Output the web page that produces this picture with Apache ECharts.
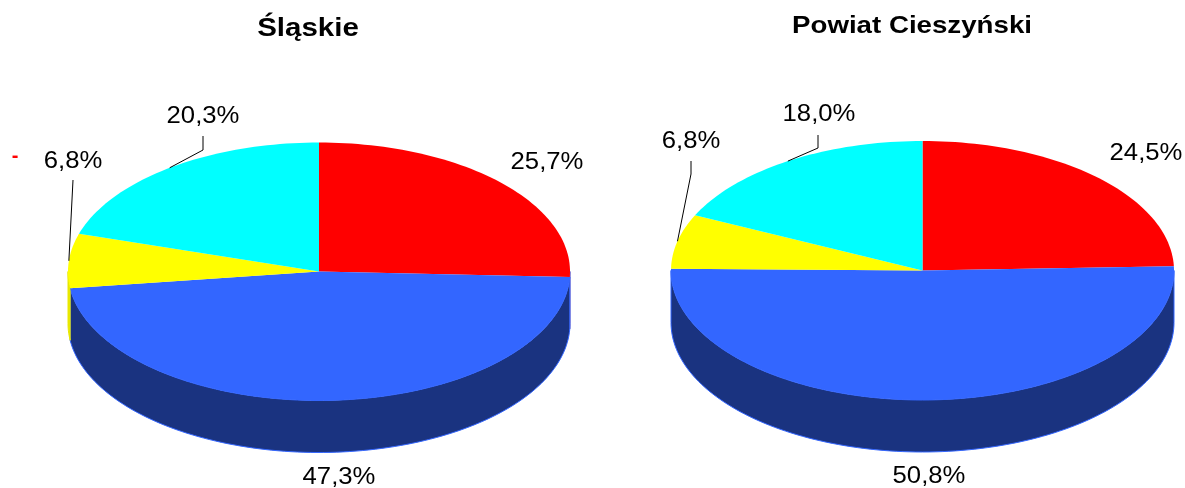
<!DOCTYPE html>
<html>
<head>
<meta charset="utf-8">
<style>html,body{margin:0;padding:0;background:#fff}#c{width:1185px;height:488px}</style>
<script src="https://cdn.jsdelivr.net/npm/echarts@6/dist/echarts.min.js"></script>
</head>
<body>
<div id="c"></div>
<script>
// Data
const categories = ['A', 'B', 'C', 'D'];
const titles = ['Śląskie', 'Powiat Cieszyński'];
const slaskieValues = [25.7, 47.3, 6.8, 20.3];
const cieszynskiValues = [24.5, 50.8, 6.8, 18.0];
const slaskieLabels = ['25,7%', '47,3%', '6,8%', '20,3%'];
const cieszynskiLabels = ['24,5%', '50,8%', '6,8%', '18,0%'];

// Styles and layout
const topColors = ['#ff0000', '#3366ff', '#ffff00', '#00ffff'];
const wallColors = ['#6a5fc8', '#1a3380', '#e8e800', '#008080'];
const wallStrokes = ['#6a5fc8', '#3366ff', '#e8e800', '#00ffff'];
const FONT = 'Liberation Sans, Arial, sans-serif';
const pies = [
  { cx: 319, cy: 271.5, rx: 251, ry: 129, depth: 52,
    labelPos: [[547, 162], [339, 477], [73, 161], [203, 116]],
    elbows: [null, null, [[73, 180]], [[203, 136], [203, 150]]],
    titlePos: [308, 29], titleSize: 25, titleScale: 1.18 },
  { cx: 922.5, cy: 270.5, rx: 251.5, ry: 129.5, depth: 52,
    labelPos: [[1146, 153], [929, 476], [691, 141], [819, 114]],
    elbows: [null, null, [[691, 161], [691, 174]], [[818, 135], [818, 148]]],
    titlePos: [912, 26], titleSize: 24, titleScale: 1.153 }
];

function pt(p, deg, dz) {
  const a = deg * Math.PI / 180;
  return [p.cx + p.rx * Math.sin(a), p.cy - p.ry * Math.cos(a) + (dz || 0)];
}
function arcPts(p, from, to, dz) {
  const out = [];
  const n = Math.max(2, Math.ceil(Math.abs(to - from) / 1.5));
  for (let i = 0; i <= n; i++) out.push(pt(p, from + (to - from) * i / n, dz));
  return out;
}

function makeRender(p, values, labels) {
  const sum = values.reduce((a, b) => a + b, 0);
  return function (params, api) {
    const i = params.dataIndex;
    let before = 0;
    for (let k = 0; k < i; k++) before += values[k];
    const start = before / sum * 360;
    const end = (before + api.value(1)) / sum * 360;
    const children = [];
    // Visible outer wall: the front half of the ellipse (90..270 degrees)
    const wa = Math.max(start, 90), wb = Math.min(end, 270);
    if (wb > wa) {
      children.push({
        type: 'polygon',
        shape: { points: arcPts(p, wa, wb, 0).concat(arcPts(p, wb, wa, p.depth)) },
        style: { fill: wallColors[i], stroke: wallStrokes[i], lineWidth: 1 }, z2: 1
      });
    }
    // Top face
    children.push({
      type: 'polygon',
      shape: { points: [[p.cx, p.cy]].concat(arcPts(p, start, end, 0)) },
      style: { fill: topColors[i], stroke: null }, z2: 2
    });
    // Leader line
    const mid = (start + end) / 2;
    const el = p.elbows[i];
    if (el) {
      children.push({
        type: 'polyline',
        shape: { points: el.concat([pt(p, mid, 0)]) },
        style: { stroke: '#000', lineWidth: 1, fill: null }, z2: 3
      });
    }
    // Value label
    const lp = p.labelPos[i];
    children.push({
      type: 'text', x: lp[0], y: lp[1], scaleX: 1.07, z2: 4,
      style: { text: labels[i], fill: '#000', font: '24px ' + FONT, align: 'center', verticalAlign: 'middle' }
    });
    return { type: 'group', children: children };
  };
}

const seriesData = values => values.map((v, i) => [categories[i], v]);

const chart = echarts.init(document.getElementById('c'), null, { renderer: 'canvas' });
chart.setOption({
  animation: false,
  backgroundColor: '#ffffff',
  graphic: [
    ...titles.map((t, i) => ({
      type: 'text', x: pies[i].titlePos[0], y: pies[i].titlePos[1], scaleX: pies[i].titleScale, silent: true,
      style: { text: t, fill: '#000', font: 'bold ' + pies[i].titleSize + 'px ' + FONT, align: 'center', verticalAlign: 'middle' }
    })),
    { type: 'text', x: 15, y: 156, silent: true,
      style: { text: '-', fill: '#ff0000', font: 'bold 20px ' + FONT, align: 'center', verticalAlign: 'middle' } }
  ],
  series: [
    { type: 'custom', coordinateSystem: 'none', silent: true, data: seriesData(slaskieValues),
      renderItem: makeRender(pies[0], slaskieValues, slaskieLabels) },
    { type: 'custom', coordinateSystem: 'none', silent: true, data: seriesData(cieszynskiValues),
      renderItem: makeRender(pies[1], cieszynskiValues, cieszynskiLabels) }
  ]
});
</script>
</body>
</html>
